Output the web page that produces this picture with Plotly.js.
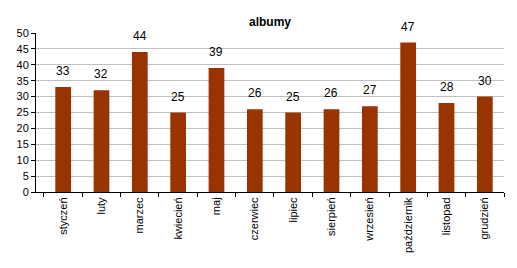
<!DOCTYPE html>
<html><head><meta charset="utf-8">
<script src="https://cdn.plot.ly/plotly-3.0.1.min.js"></script>
<style>html,body{margin:0;padding:0;background:#fff}#c{width:517px;height:268px}</style>
</head><body><div id="c"></div>
<script>
const months = ["styczeń","luty","marzec","kwiecień","maj","czerwiec","lipiec","sierpień","wrzesień","październik","listopad","grudzień"];
const albums = [33,32,44,25,39,26,25,26,27,47,28,30];
const yTicks = [0,5,10,15,20,25,30,35,40,45,50];
const gridTicks = [5,10,15,20,25,30,35,40,45];
const titleText = "albumy";

const font = {family:"Liberation Sans, Arial, sans-serif", size:11, color:"#000"};
const data = [{
  type:"bar", x:months, y:albums,
  marker:{color:"#993300", line:{width:0}},
  width:0.41, hoverinfo:"none"
},{
  type:"scatter", x:[months[0]], y:[0], yaxis:"y2", mode:"markers",
  marker:{opacity:0}, showlegend:false, hoverinfo:"none"
}];
const annotations = months.map((m,i)=>({
  x:m, y:albums[i], xref:"x", yref:"y", text:String(albums[i]),
  showarrow:false, yanchor:"bottom", yshift:7, font:{family:font.family, size:12, color:"#000"}
}));
const layout = {
  width:517, height:268,
  margin:{l:36, r:13, t:33, b:76, pad:0},
  paper_bgcolor:"#fff", plot_bgcolor:"#fff",
  showlegend:false,
  font:font,
  annotations:annotations,
  title:{text:titleText, font:{family:font.family, size:12, color:"#000", weight:"bold"}, x:0.5, xref:"paper", y:0.92, yref:"container", yanchor:"middle"},
  xaxis:{type:"category", showline:true, linecolor:"#000", linewidth:1,
    ticks:"outside", ticklen:4, tickcolor:"#000", tickson:"boundaries",
    tickangle:-90, tickfont:font, showgrid:false, zeroline:false, fixedrange:true},
  yaxis:{range:[0,50], tickvals:gridTicks, showticklabels:false, ticks:"",
    showgrid:true, gridcolor:"#c0c0c0", gridwidth:1, zeroline:false, showline:false, fixedrange:true},
  yaxis2:{range:[0,50], overlaying:"y", side:"left", tickvals:yTicks, ticktext:yTicks.map(String),
    showgrid:false, zeroline:false, showline:true, linecolor:"#000", linewidth:1,
    ticks:"outside", ticklen:4, tickcolor:"#000", tickfont:font, fixedrange:true},
  bargap:0.59
};
Plotly.newPlot("c", data, layout, {staticPlot:true, displayModeBar:false});
</script></body></html>
